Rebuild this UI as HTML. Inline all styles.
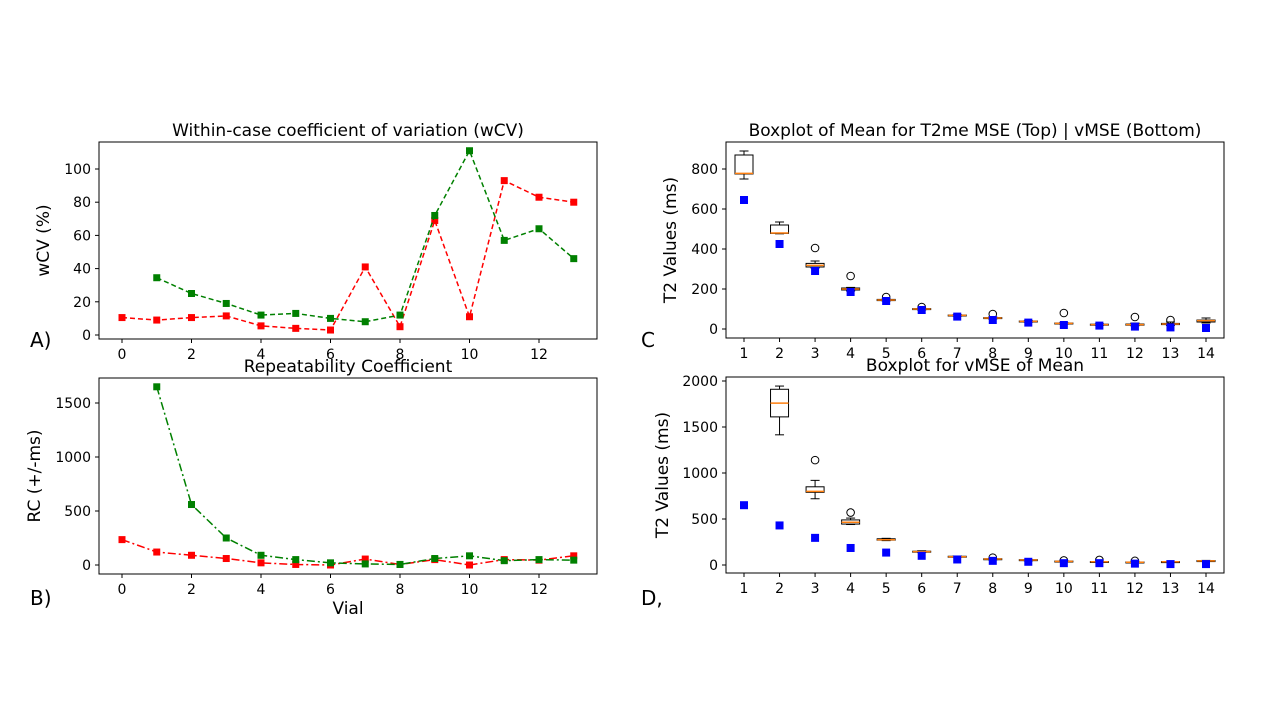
<!DOCTYPE html>
<html><head><meta charset="utf-8"><style>
body{margin:0;background:#fff;width:1280px;height:720px;overflow:hidden}
svg text{font-family:"DejaVu Sans","Liberation Sans",sans-serif;fill:#000}
</style></head><body>
<svg id="fig" width="1280" height="720" viewBox="0 0 1280 720" xmlns="http://www.w3.org/2000/svg"></svg>
<script>
// Panel A data (wCV)
const aRedX=[0,1,2,3,4,5,6,7,8,9,10,11,12,13];
const aRed=[10.5,9,10.5,11.5,5.5,4,3,41,5,69,11,93,83,80];
const aGreenX=[1,2,3,4,5,6,7,8,9,10,11,12,13];
const aGreen=[34.5,25,19,12,13,10,8,12,72,111,57,64,46];
const aYTicks=[0,20,40,60,80,100];
const xTicksAB=[0,2,4,6,8,10,12];
// Panel B data (RC)
const bRed=[235,120,90,60,20,5,0,55,5,50,0,50,45,85];
const bGreen=[1650,560,250,90,50,20,10,5,60,85,40,50,45];
const bYTicks=[0,500,1000,1500];
// Panel C data: [whiskLow,q1,median,q3,whiskHigh]
const cBoxes=[[750,775,778,870,890],[476,478,480,520,535],[305,310,318,328,340],[190,195,200,205,208],[140,142,145,148,150],[95,98,100,102,104],[64,66,68,70,72],[50,53,55,57,60],[34,36,38,40,42],[24,26,28,30,32],[18,20,22,24,26],[16,19,22,25,30],[18,22,25,28,35],[30,35,42,45,55]];
const cOutliers=[[],[],[405],[265],[160],[110],[],[75],[],[80],[],[60],[45],[]];
const cBlue=[645,425,290,185,140,95,62,45,32,20,17,12,8,5];
const cYTicks=[0,200,400,600,800];
// Panel D data
const dBoxes=[null,[1415,1610,1760,1910,1945],[720,790,800,850,920],[440,445,465,490,510],[265,270,275,285,290],[135,140,145,150,155],[85,88,90,95,98],[55,60,65,68,70],[45,50,55,58,60],[35,38,40,43,46],[30,32,35,38,40],[25,28,30,33,36],[28,32,35,37,40],[38,42,45,48,50]];
const dOutliers=[[],[],[1140],[570],[],[],[],[80],[],[50],[55],[45],[],[]];
const dBlue=[650,430,295,185,135,100,60,45,35,20,20,15,10,10];
const dYTicks=[0,500,1000,1500,2000];
const boxCats=[1,2,3,4,5,6,7,8,9,10,11,12,13,14];

const NS="http://www.w3.org/2000/svg";
const svg=document.getElementById('fig');
function mk(tag,attrs,parent,txt){const e=document.createElementNS(NS,tag);for(const k in attrs)e.setAttribute(k,attrs[k]);if(txt!==undefined)e.textContent=txt;(parent||svg).appendChild(e);return e;}
function lin(d0,d1,p0,p1){return v=>p0+(v-d0)*(p1-p0)/(d1-d0);}

function axes(name,box,xs,ys,xt,yt,title,ylabel,xlabel){
  const g=mk('g',{},svg);
  
  
  const r=mk('rect',{x:box[0],y:box[1],width:box[2]-box[0],height:box[3]-box[1],fill:'none',stroke:'#000','stroke-width':1},g);
  
  
  xt.forEach(v=>{const x=xs(v);mk('line',{x1:x,x2:x,y1:box[3],y2:box[3]+4,stroke:'#000'},g);
    const t=mk('text',{x:x,y:box[3]+20,'text-anchor':'middle','font-size':14},g,v);
    
    });
  yt.forEach(v=>{const y=ys(v);mk('line',{x1:box[0]-4,x2:box[0],y1:y,y2:y,stroke:'#000'},g);
    const t=mk('text',{x:box[0]-8,y:y+5,'text-anchor':'end','font-size':14},g,v);
    
    });
  const tt=mk('text',{x:(box[0]+box[2])/2,y:box[1]-6,'text-anchor':'middle','font-size':17},g,title);
  
  
  const cy=(box[1]+box[3])/2, lx=box[0]-(ylabel.lx||52);
  const yl=mk('text',{x:lx,y:cy,'text-anchor':'middle','font-size':17,transform:`rotate(-90 ${lx} ${cy})`},g,ylabel.t);
  
  
  if(xlabel){const xl=mk('text',{x:(box[0]+box[2])/2,y:box[3]+40,'text-anchor':'middle','font-size':17},g,xlabel);
    
    }
  return g;
}
function series(g,xsArr,vals,xs,ys,color,dash,name){
  const pts=vals.map((v,i)=>xs(xsArr[i])+','+ys(v)).join(' ');
  const pl=mk('polyline',{points:pts,fill:'none',stroke:color,'stroke-width':1.5,'stroke-dasharray':dash},g);
  
  
  vals.forEach((v,i)=>{const m=mk('rect',{x:xs(xsArr[i])-3.5,y:ys(v)-3.5,width:7,height:7,fill:color},g);
    
    });
}
// Panel A
{const box=[99,142,597,339],xs=lin(0,12,122,539),ys=lin(0,100,335,169);
 const g=axes('panel-a-wcv',box,xs,ys,xTicksAB,aYTicks,'Within-case coefficient of variation (wCV)',{t:'wCV (%)',lx:50});
 series(g,aRedX,aRed,xs,ys,'#ff0000','5,3','red-series');
 series(g,aGreenX,aGreen,xs,ys,'#008000','5,3','green-series');}
// Panel B
{const box=[99,378,597,574],xs=lin(0,12,122,539),ys=lin(0,1500,565,403);
 const g=axes('panel-b-rc',box,xs,ys,xTicksAB,bYTicks,'Repeatability Coefficient',{t:'RC (+/-ms)',lx:59},'Vial');
 series(g,aRedX,bRed,xs,ys,'#ff0000','8,3,2,3','red-series');
 series(g,aGreenX,bGreen,xs,ys,'#008000','8,3,2,3','green-series');}
function boxplot(g,boxes,outs,blue,xs,ys){
  boxes.forEach((b,i)=>{const x=xs(boxCats[i]);
    if(b){const bg=mk('g',{},g);
      
      
      mk('line',{x1:x,x2:x,y1:ys(b[0]),y2:ys(b[1]),stroke:'#000'},bg);
      mk('line',{x1:x,x2:x,y1:ys(b[3]),y2:ys(b[4]),stroke:'#000'},bg);
      mk('line',{x1:x-4.5,x2:x+4.5,y1:ys(b[0]),y2:ys(b[0]),stroke:'#000'},bg);
      mk('line',{x1:x-4.5,x2:x+4.5,y1:ys(b[4]),y2:ys(b[4]),stroke:'#000'},bg);
      mk('rect',{x:x-9,y:ys(b[3]),width:18,height:Math.max(1,ys(b[1])-ys(b[3])),fill:'none',stroke:'#000'},bg);
      mk('line',{x1:x-9,x2:x+9,y1:ys(b[2]),y2:ys(b[2]),stroke:'#ff7f0e','stroke-width':1.5},bg);}
    outs[i].forEach(o=>{const c=mk('circle',{cx:x,cy:ys(o),r:3.8,fill:'none',stroke:'#000'},g);
      
      });
    const m=mk('rect',{x:x-4,y:ys(blue[i])-4,width:8,height:8,fill:'#0000ff'},g);
    
    
  });
}
// Panel C
{const box=[726,142,1224,338],xs=lin(1,14,744,1206),ys=lin(0,800,329,169);
 const g=axes('panel-c-boxplot',box,xs,ys,boxCats,cYTicks,'Boxplot of Mean for T2me MSE (Top) | vMSE (Bottom)',{t:'T2 Values (ms)',lx:50});
 boxplot(g,cBoxes,cOutliers,cBlue,xs,ys);}
// Panel D
{const box=[726,377,1224,573],xs=lin(1,14,744,1206),ys=lin(0,2000,565,381);
 const g=axes('panel-d-boxplot',box,xs,ys,boxCats,dYTicks,'Boxplot for vMSE of Mean',{t:'T2 Values (ms)',lx:58});
 boxplot(g,dBoxes,dOutliers,dBlue,xs,ys);}
[['A)',30,347,'label-a'],['B)',30,605,'label-b'],['C',641,347,'label-c'],['D,',641,605,'label-d']].forEach(l=>{
  const t=mk('text',{x:l[1],y:l[2],'font-size':20},svg,l[0]);
  
  });
</script>
</body></html>
